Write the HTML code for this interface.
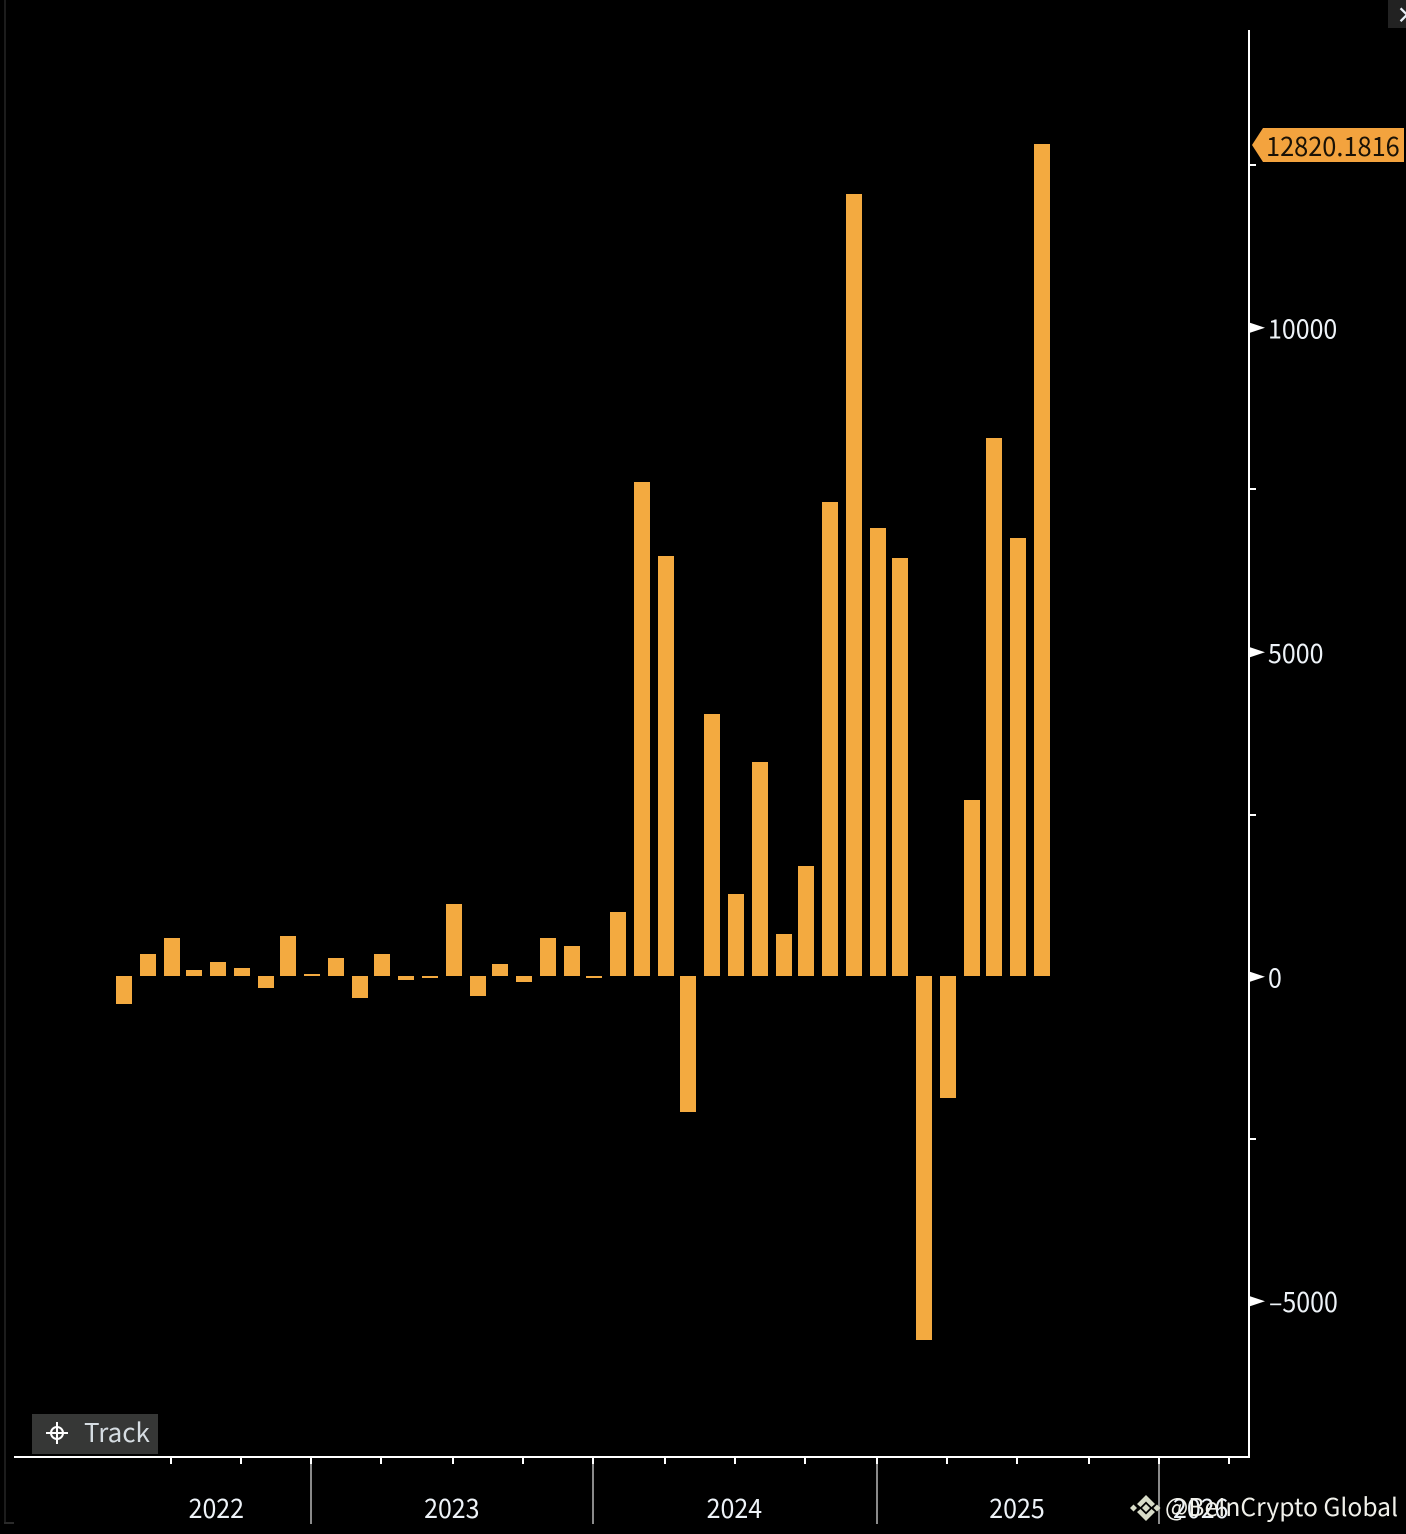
<!DOCTYPE html>
<html lang="en">
<head>
<meta charset="utf-8">
<title>Monthly values bar chart</title>
<style>
html,body{margin:0;padding:0;background:#000;width:1406px;height:1534px;overflow:hidden}
svg{display:block}
text{font-family:"Noto Sans CJK JP","Liberation Sans",sans-serif}
</style>
</head>
<body>
<svg id="chart" xmlns="http://www.w3.org/2000/svg" width="1406" height="1534" viewBox="0 0 1406 1534">
  <rect x="0" y="0" width="1406" height="1534" fill="#000"/>
  <rect x="4" y="0" width="2" height="1523" fill="#1c1c1c"/>
  <rect x="4" y="1522" width="10" height="2" fill="#2a2a2a"/>
  <g id="bars" shape-rendering="crispEdges"></g>
  <g id="axes"></g>
  <g>
    <rect x="32" y="1414" width="126" height="40" fill="#363736"/>
    <g stroke="#fff" fill="none" stroke-width="2">
      <circle cx="57" cy="1433" r="6"/>
      <path d="M57 1422V1444M46 1433H68"/>
    </g>
    <text x="84" y="1442" font-size="26" fill="#d6dde2">Track</text>
  </g>
  <g>
    <rect x="1388" y="0" width="18" height="28" fill="#222"/>
    <text x="1396" y="23" font-size="22" font-weight="700" fill="#e8eef6">×</text>
  </g>
  <g>
    <g fill="#d8dcc8">
      <path d="M1146 1495l9 9-3.500 3-5.500-5.500-5.500 5.500-3.500-3z"/>
      <path d="M1146 1521l9-9-3.500-3-5.500 5.500-5.500-5.500-3.500 3z"/>
      <path d="M1146 1504l4 4-4 4-4-4z"/>
      <path d="M1133.500 1504.500l3.500 3.500-3.500 3.500-3.500-3.500z"/>
      <path d="M1157 1504.500l3.500 3.500-3.500 3.500-3.500-3.500z"/>
    </g>
    <text x="1165" y="1516" font-size="24.650" fill="#f0f0ea">@BeInCrypto Global</text>
  </g>
</svg>
<script>
const categories = ["2022-04","2022-05","2022-06","2022-07","2022-08","2022-09","2022-10","2022-11","2022-12","2023-01","2023-02","2023-03","2023-04","2023-05","2023-06","2023-07","2023-08","2023-09","2023-10","2023-11","2023-12","2024-01","2024-02","2024-03","2024-04","2024-05","2024-06","2024-07","2024-08","2024-09","2024-10","2024-11","2024-12","2025-01","2025-02","2025-03","2025-04","2025-05","2025-06","2025-07"];
const seriesValues = [-431,339,585,92,216,123,-185,616,31,277,-339,339,-62,-31,1109,-308,185,-92,585,462,-31,986,7612,6471,-2096,4037,1263,3297,647,1695,7304,12049,6903,6441,-5609,-1880,2712,8290,6749,12820.1816];
const yMajorTicks = [-5000,0,5000,10000];
const yMinorTicks = [-2500,2500,7500,12500];
const xSeparatorMonths = [12,24,36,48];
const xMinorTickMonths = [6,9,15,18,21,27,30,33,39,42,45,51];
const xYearLabels = ["2022","2023","2024","2025","2026"];
const xYearLabelMonths = [8,18,30,42,49.8];

const SVG_NS = "http://www.w3.org/2000/svg";
const barsLayer = document.getElementById("bars");
const axesLayer = document.getElementById("axes");
const BAR_COLOR = "#f3aa40";
const AXIS_COLOR = "#ffffff";
const LABEL_SIZE = 27;
const LABEL_STRETCH = 0.925;

function yScale(value) { return 976 - value * 0.0649; }
function monthScale(month) { return 311.3 + (month - 12) * 23.55; }
function barLeft(index) { return 2 * Math.floor((117 + index * 23.54) / 2); }
function snap(v) { return 2 * Math.floor(v / 2); }
function make(tag, attrs) {
  const el = document.createElementNS(SVG_NS, tag);
  Object.keys(attrs).forEach(function (k) { el.setAttribute(k, attrs[k]); });
  return el;
}
function formatTick(v) { return v < 0 ? "–" + Math.abs(v) : String(v); }
function stretched(x, y, stretch) { return "translate(" + x + " " + y + ") scale(" + stretch + " 1)"; }

categories.forEach(function (cat, i) {
  const zero = yScale(0);
  const top = Math.round(yScale(seriesValues[i]));
  const bar = make("rect", {
    x: barLeft(i),
    y: Math.min(top, zero),
    width: 16,
    height: Math.abs(top - zero),
    fill: BAR_COLOR
  });
  
  
  barsLayer.appendChild(bar);
});

const yAxisLine = make("rect", { x: 1248, y: 30, width: 2, height: 1428, fill: AXIS_COLOR });


axesLayer.appendChild(yAxisLine);

const xAxisLine = make("rect", { x: 14, y: 1456, width: 1236, height: 2, fill: AXIS_COLOR });


axesLayer.appendChild(xAxisLine);

yMinorTicks.forEach(function (v) {
  const tick = make("rect", { x: 1250, y: snap(yScale(v) + 0.5), width: 6, height: 2, fill: AXIS_COLOR });
  
  
  axesLayer.appendChild(tick);
});

yMajorTicks.forEach(function (v) {
  const y = yScale(v) + 0.8;
  const tri = make("polygon", {
    points: "1250," + (y - 5) + " 1265," + y + " 1250," + (y + 5),
    fill: AXIS_COLOR
  });
  
  
  axesLayer.appendChild(tri);
  const label = make("text", {
    transform: stretched(v < 0 ? 1269 : 1268, yScale(v) + 11.5, LABEL_STRETCH),
    "font-size": LABEL_SIZE,
    fill: "#eef3f8"
  });
  label.textContent = formatTick(v);
  
  
  axesLayer.appendChild(label);
});

xSeparatorMonths.forEach(function (m) {
  const x = snap(monthScale(m));
  const sep = make("rect", { x: x, y: 1464, width: 2, height: 60, fill: "#8a8a8a" });
  
  
  axesLayer.appendChild(sep);
  const cap = make("rect", { x: x, y: 1458, width: 2, height: 6, fill: AXIS_COLOR });
  
  
  axesLayer.appendChild(cap);
});

xMinorTickMonths.forEach(function (m) {
  const tick = make("rect", { x: snap(monthScale(m)), y: 1458, width: 2, height: 6, fill: AXIS_COLOR });
  
  
  axesLayer.appendChild(tick);
});

xYearLabels.forEach(function (txt, i) {
  const label = make("text", {
    transform: stretched(monthScale(xYearLabelMonths[i]) - 0.8, 1518, LABEL_STRETCH),
    "font-size": LABEL_SIZE,
    "text-anchor": "middle",
    fill: "#eef3f8"
  });
  label.textContent = txt;
  
  
  axesLayer.appendChild(label);
});

const lastValue = seriesValues[seriesValues.length - 1];
const tagY = Math.round(yScale(lastValue)) + 1;
const tag = make("polygon", {
  points: "1252," + tagY + " 1263," + (tagY - 17) + " 1404," + (tagY - 17) + " 1404," + (tagY + 17) + " 1263," + (tagY + 17),
  fill: "#f3a33e"
});


axesLayer.appendChild(tag);
const tagText = make("text", {
  transform: stretched(1266, tagY + 11, 0.94),
  "font-size": LABEL_SIZE,
  fill: "#1a1206"
});
tagText.textContent = lastValue.toFixed(4);


axesLayer.appendChild(tagText);
</script>
</body>
</html>
